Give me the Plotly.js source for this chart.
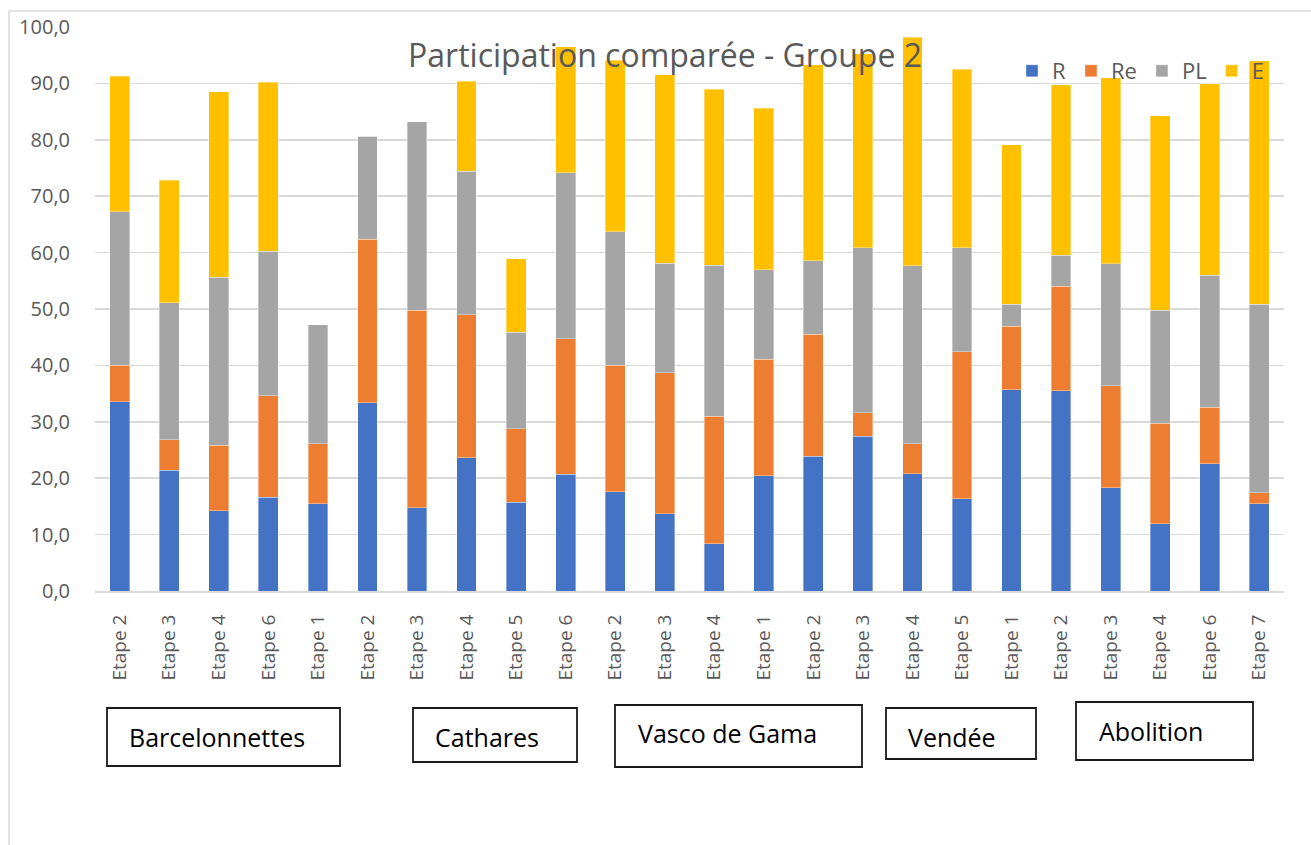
<!DOCTYPE html>
<html>
<head>
<meta charset="utf-8">
<script src="https://cdn.plot.ly/plotly-3.0.1.min.js"></script>
<style>html,body{margin:0;padding:0;background:#fff;}#chart{width:1311px;height:845px;}</style>
</head>
<body>
<div id="chart"></div>
<script>
// ---- data ----
const stepLabels = ['Etape 2','Etape 3','Etape 4','Etape 6','Etape 1','Etape 2','Etape 3','Etape 4','Etape 5','Etape 6','Etape 2','Etape 3','Etape 4','Etape 1','Etape 2','Etape 3','Etape 4','Etape 5','Etape 1','Etape 2','Etape 3','Etape 4','Etape 6','Etape 7'];
const seriesNames = ['R','Re','PL','E'];
const valuesR  = [33.6,21.4,14.2,16.6,15.5,33.4,14.8,23.6,15.7,20.7,17.6,13.7,8.4,20.4,23.9,27.4,20.8,16.4,35.7,35.5,18.3,11.9,22.6,15.5];
const valuesRe = [6.4,5.4,11.6,18.0,10.6,29.0,35.0,25.4,13.1,24.0,22.4,25.0,22.6,20.7,21.6,4.2,5.3,26.0,11.2,18.5,18.1,17.8,10.0,1.9];
const valuesPL = [27.2,24.3,29.8,25.6,21.1,18.2,33.4,25.4,17.1,29.5,23.7,19.4,26.8,15.9,13.1,29.3,31.6,18.5,3.9,5.5,21.6,20.1,23.4,33.4];
const valuesE  = [24.1,21.7,32.9,30.0,0,0,0,16.0,13.0,22.3,30.4,33.4,31.2,28.6,34.7,34.4,40.5,31.6,28.3,30.3,33.0,34.5,33.9,43.2];
const groupNames = ['Barcelonnettes','Cathares','Vasco de Gama','Vendée','Abolition'];
const yTicks = [0,10,20,30,40,50,60,70,80,90,100];
const chartTitle = 'Participation comparée - Groupe 2';

// ---- layout helpers ----
const W = 1311, H = 845, PL_ = 95, PR_ = 1284, PT_ = 27, PB_ = 591;
const px = x => (x - PL_) / (PR_ - PL_);
const py = y => (PB_ - y) / (PB_ - PT_);
const colors = ['#4472C4','#ED7D31','#A5A5A5','#FFC000'];
const seriesValues = [valuesR, valuesRe, valuesPL, valuesE];
const xs = stepLabels.map((_, i) => i);

const traces = seriesNames.map((name, k) => ({
  type: 'bar', name: name, x: xs, y: seriesValues[k],
  marker: {color: colors[k], line: {color: 'rgba(255,255,255,0.6)', width: 0.6}},
  hoverinfo: 'skip'
}));

// group boxes (pixel geometry)
const boxes = [
  {x0:107, x1:340, y0:708, y1:766, tx:127, ty:737},
  {x0:413, x1:577, y0:708, y1:762, tx:433, ty:737},
  {x0:615, x1:862, y0:705, y1:767, tx:636, ty:733},
  {x0:886, x1:1036, y0:708, y1:759, tx:906, ty:737},
  {x0:1076, x1:1253, y0:702, y1:760, tx:1097, ty:731}
];
const shapes = boxes.map(b => ({
  type:'rect', xref:'paper', yref:'paper', x0:px(b.x0), x1:px(b.x1), y0:py(b.y1), y1:py(b.y0),
  line:{color:'#1a1a1a', width:1.8}, fillcolor:'rgba(0,0,0,0)', layer:'above'
}));
// outer chart border
shapes.push({type:'line', xref:'paper', yref:'paper', x0:px(9), x1:px(1330), y0:py(11), y1:py(11), line:{color:'#d9d9d9', width:1.5}});
shapes.push({type:'line', xref:'paper', yref:'paper', x0:px(9), x1:px(9), y0:py(11), y1:py(870), line:{color:'#d9d9d9', width:1.5}});

const annotations = boxes.map((b, i) => ({
  xref:'paper', yref:'paper', x:px(b.tx), y:py(b.ty), xanchor:'left', yanchor:'middle',
  text: groupNames[i], showarrow:false, font:{family:'Open Sans, sans-serif', size:25, color:'#000'}
}));

const layout = {
  width: W, height: H,
  margin: {l: PL_, r: W - PR_, t: PT_, b: H - PB_, pad: 0},
  paper_bgcolor: '#fff', plot_bgcolor: '#fff',
  barmode: 'stack', bargap: 0.6,
  separators: ', ',
  title: {text: chartTitle, x: 665 / W, xanchor: 'center', y: 1 - 56 / H, yanchor: 'middle',
          font: {family: 'Open Sans, sans-serif', size: 32, color: '#595959'}},
  xaxis: {
    range: [-0.5, stepLabels.length - 0.5], tickmode: 'array', tickvals: xs, ticktext: stepLabels,
    tickangle: -90, ticks: 'outside', ticklen: 14, tickcolor: 'rgba(0,0,0,0)',
    showline: true, linecolor: '#d9d9d9', linewidth: 2, showgrid: false, zeroline: false,
    tickfont: {family: 'Open Sans, sans-serif', size: 19, color: '#595959'}, fixedrange: true
  },
  yaxis: {
    range: [0, 100], tickmode: 'array', tickvals: yTicks, tickformat: '.1f',
    ticks: 'outside', ticklen: 20, tickcolor: 'rgba(0,0,0,0)',
    showgrid: true, gridcolor: '#d9d9d9', gridwidth: 1.5, zeroline: false, showline: false,
    tickfont: {family: 'Open Sans, sans-serif', size: 20, color: '#595959'}, fixedrange: true
  },
  legend: {orientation: 'h', x: px(1012), y: py(71), xanchor: 'left', yanchor: 'middle',
           bgcolor: 'rgba(0,0,0,0)', traceorder: 'normal',
           font: {family: 'Open Sans, sans-serif', size: 22, color: '#595959'}},
  shapes: shapes,
  annotations: annotations,
  showlegend: true
};

Plotly.newPlot('chart', traces, layout, {displayModeBar: false, staticPlot: true});
</script>
</body>
</html>
